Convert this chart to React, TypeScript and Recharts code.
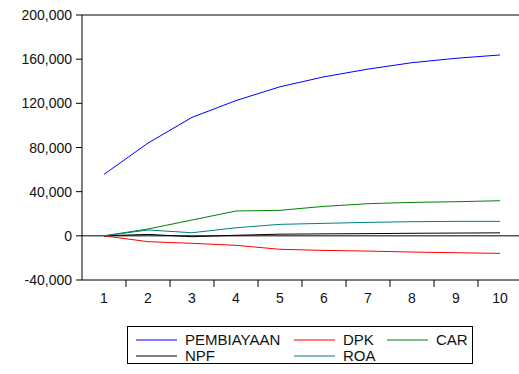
import React from 'react';
import { LineChart, Line, XAxis, YAxis, ReferenceLine, Legend } from 'recharts';

const periods = [1, 2, 3, 4, 5, 6, 7, 8, 9, 10];
const pembiayaan = [55700, 84000, 107300, 122500, 135000, 144000, 151000, 156800, 160800, 163800];
const dpk = [0, -5300, -6800, -8600, -12200, -13200, -13800, -14700, -15300, -15900];
const car = [0, 6200, 14300, 22500, 23100, 26700, 29100, 30300, 30900, 31800];
const npf = [0, 1300, -800, 500, 1500, 1800, 2000, 2300, 2500, 2700];
const roa = [0, 5300, 2800, 7300, 10400, 11300, 12200, 12800, 13100, 13100];
const yTicks = [-40000, 0, 40000, 80000, 120000, 160000, 200000];

const series = [
  { key: 'PEMBIAYAAN', color: '#0000FF', values: pembiayaan },
  { key: 'DPK', color: '#FF0000', values: dpk },
  { key: 'CAR', color: '#008000', values: car },
  { key: 'NPF', color: '#000000', values: npf },
  { key: 'ROA', color: '#008080', values: roa },
];

const data = periods.map((p, i) => {
  const row: any = { period: p };
  series.forEach((s) => (row[s.key] = s.values[i]));
  return row;
});

const FONT = '"Liberation Sans", Arial, sans-serif';
const fmt = (v: number) => v.toLocaleString('en-US');

const YTick = (props: any) => {
  const { x, y, payload } = props;
  return (
    <text x={x} y={y} dy="0.36em" textAnchor="end" fontFamily={FONT} fontSize={14} fill="#111">
      {fmt(payload.value)}
    </text>
  );
};

const X_TICK_SIZE = 6;
const X_TICK_MARGIN = 4;

const XTick = (props: any) => {
  const { x, y, payload, index, width } = props;
  const half = (width || 440) / periods.length / 2;
  const axisY = y - X_TICK_SIZE - X_TICK_MARGIN;
  return (
    <g>
      {index > 0 && <line x1={x - half} x2={x - half} y1={axisY} y2={axisY + 7} stroke="#000" strokeWidth={1} />}
      <text x={x} y={y} dy="0.9em" textAnchor="middle" fontFamily={FONT} fontSize={14} fill="#111">
        {payload.value}
      </text>
    </g>
  );
};

const legendCols = [9, 167, 260];
const LegendBox = () => {
  const rows = [series.slice(0, 3), series.slice(3)];
  const colIdx = [[0, 1, 2], [0, 1]];
  return (
    <svg width={347} height={39} style={{ display: 'block' }}>
      <rect x={0.5} y={0.5} width={345} height={37} fill="#fff" stroke="#000" />
      {rows.map((r, ri) =>
        r.map((s, si) => {
          const cx = legendCols[colIdx[ri][si]];
          const cy = 14 + ri * 16;
          return (
            <g key={s.key}>
              <line x1={cx} x2={cx + 41} y1={cy} y2={cy} stroke={s.color} strokeWidth={1} />
              <text x={cx + 49} y={cy} dy="0.36em" fontFamily={FONT} fontSize={15} fill="#111">
                {s.key}
              </text>
            </g>
          );
        })
      )}
    </svg>
  );
};

export default function App() {
  return (
    <div style={{ position: 'absolute', left: 0, top: 0, width: 519, height: 374, overflow: 'hidden', background: '#fff' }}>
      <LineChart width={530} height={374} data={data} margin={{ top: 15, right: 8, bottom: 64, left: 0 }}>
        <XAxis
          dataKey="period"
          type="number"
          domain={[0.5, 10.5]}
          ticks={periods}
          tick={<XTick />}
          tickLine={false}
          tickSize={X_TICK_SIZE}
          tickMargin={X_TICK_MARGIN}
          axisLine={{ stroke: '#000' }}
          height={30}
          interval={0}
        />
        <YAxis
          type="number"
          domain={[-40000, 200000]}
          ticks={yTicks}
          tick={<YTick />}
          tickLine={{ stroke: '#000' }}
          tickSize={6}
          tickMargin={4}
          axisLine={{ stroke: '#000' }}
          width={82}
          interval={0}
        />
        <ReferenceLine y={200000} stroke="#000" />
        <ReferenceLine y={0} stroke="#000" />
        {series.map((s) => (
          <Line
            key={s.key}
            type="linear"
            dataKey={s.key}
            stroke={s.color}
            strokeWidth={1}
            dot={false}
            isAnimationActive={false}
          />
        ))}
        <Legend
          layout="horizontal"
          verticalAlign="middle"
          align="center"
          wrapperStyle={{ left: 127, top: 326, width: 347, height: 39 }}
          content={() => <LegendBox />}
        />
      </LineChart>
    </div>
  );
}
